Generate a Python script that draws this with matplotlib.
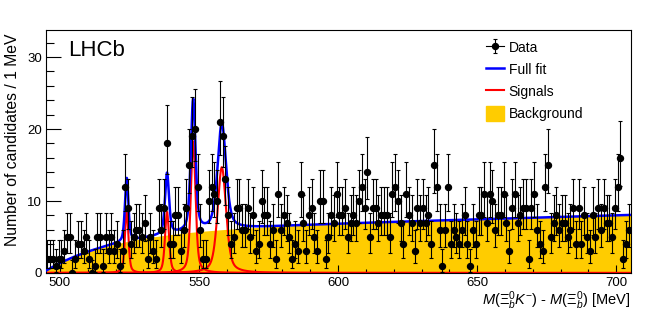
import math
import numpy as np
import matplotlib
matplotlib.use("Agg")
import matplotlib.pyplot as plt
from matplotlib.lines import Line2D
from matplotlib.patches import Patch

plt.rcParams["font.family"] = ["Liberation Sans", "DejaVu Sans"]
plt.rcParams["mathtext.fontset"] = "custom"
plt.rcParams["mathtext.rm"] = "Liberation Sans"
plt.rcParams["mathtext.it"] = "Liberation Sans:italic"

# --- data: counts per 1 MeV bin, 495-705 MeV ---
bin_lo = 495.0
bin_width = 1.0
counts = [
    2, 2, 2, 1, 2, 2, 3, 5, 5, 0, 2, 4, 4, 3, 5, 2, 0, 1, 5, 5,
    1, 5, 3, 5, 3, 4, 1, 3, 12, 9, 4, 5, 6, 6, 5, 7, 2, 5, 3, 2,
    9, 6, 9, 18, 4, 4, 8, 8, 3, 6, 9, 15, 19, 20, 12, 6, 2, 2, 10, 12,
    11, 10, 21, 19, 13, 8, 4, 5, 9, 9, 6, 6, 9, 5, 8, 3, 4, 10, 8, 8,
    4, 6, 2, 11, 6, 8, 7, 5, 2, 4, 3, 11, 7, 3, 8, 9, 5, 3, 10, 10,
    2, 5, 8, 7, 11, 8, 8, 9, 5, 7, 8, 7, 10, 12, 9, 14, 5, 9, 9, 7,
    8, 8, 8, 5, 11, 12, 10, 7, 4, 11, 8, 7, 3, 9, 7, 9, 7, 8, 4, 15,
    12, 6, 1, 6, 12, 4, 6, 5, 4, 6, 8, 4, 1, 6, 4, 8, 8, 11, 7, 11,
    10, 6, 8, 8, 11, 7, 3, 9, 11, 7, 8, 9, 9, 2, 9, 11, 6, 4, 3, 12,
    15, 5, 7, 8, 6, 7, 7, 5, 6, 9, 4, 9, 4, 8, 5, 3, 8, 5, 9, 6,
    9, 7, 7, 5, 9, 12, 16, 2, 4, 6,
]

# --- fit model ---
peak_mass = [524.0, 538.5, 547.9, 558.2]
peak_height = [8.8, 8.5, 18.3, 14.7]
peak_fwhm = [1.45, 1.7, 2.0, 3.6]
threshold = 493.7
bkg_amp, bkg_scale, bkg_slope = 5.74, 25.0, 0.011

x_lo, x_hi = 495.0, 705.3
y_hi = 33.75


def poisson_cdf(k, mu):
    if k < 0:
        return 0.0
    term = math.exp(-mu)
    s = term
    for j in range(1, k + 1):
        term *= mu / j
        s += term
    return s


def garwood(n, cl=0.6827):
    # 68% central Poisson interval, as ROOT draws it
    a = (1 - cl) / 2
    lo, hi = n, n + 10 * math.sqrt(n + 1) + 10
    for _ in range(60):
        mid = 0.5 * (lo + hi)
        if poisson_cdf(n, mid) > a:
            lo = mid
        else:
            hi = mid
    up = 0.5 * (lo + hi)
    if n == 0:
        return 0.0, up
    lo, hi = 0.0, n
    for _ in range(60):
        mid = 0.5 * (lo + hi)
        if 1 - poisson_cdf(n - 1, mid) < a:
            lo = mid
        else:
            hi = mid
    return 0.5 * (lo + hi), up


def bkg(m):
    d = np.clip(m - threshold, 0, None)
    return bkg_amp * (1 - np.exp(-d / bkg_scale)) + bkg_slope * d


def peak(m, m0, h, fwhm):
    g = fwhm / 2
    lor = 1 / (1 + ((m - m0) / g) ** 2)
    gau = np.exp(-4 * np.log(2) * ((m - m0) / fwhm) ** 2)
    return h * (0.5 * lor + 0.5 * gau)


counts = np.array(counts)
centers = bin_lo + bin_width * (np.arange(len(counts)) + 0.5)
ints = [garwood(int(n)) for n in counts]
err_lo = counts - np.array([i[0] for i in ints])
err_hi = np.array([i[1] for i in ints]) - counts

m = np.linspace(x_lo, x_hi, 3000)
b = bkg(m)
sigs = [peak(m, m0, h, w) for m0, h, w in zip(peak_mass, peak_height, peak_fwhm)]
total = b + np.sum(sigs, axis=0)

fig = plt.figure(figsize=(6.64, 3.11), dpi=100)
ax = fig.add_axes([0.0693, 0.1222, 0.8810, 0.7813])

yellow = "#ffcc00"
ax.fill_between(m, 0, b, color=yellow, lw=0, zorder=1)
for s in sigs:
    ax.plot(m, s, color="#ff0000", lw=1.5, zorder=2)
ax.plot(m, total, color="#0000ff", lw=1.8, zorder=3)
eb = ax.errorbar(centers, counts, yerr=[err_lo, err_hi], fmt="o", color="black",
                 ms=4.3, elinewidth=0.8, capsize=1.6, capthick=0.8, zorder=4)

ax.set_xlim(x_lo, x_hi)
ax.set_ylim(0, y_hi)
ax.set_xticks([500, 550, 600, 650, 700])
ax.set_xticks(np.arange(500, 706, 10), minor=True)
ax.set_yticks([0, 10, 20, 30])
ax.set_yticks(np.arange(0, 34, 2), minor=True)
ax.tick_params(axis="both", which="both", direction="in", labelsize=9.5, width=0.8)
ax.tick_params(axis="x", which="major", length=6, pad=3)
ax.tick_params(axis="x", which="minor", length=3)
ax.tick_params(axis="y", which="major", length=11, pad=3)
ax.tick_params(axis="y", which="minor", length=5.5)
for sp in ax.spines.values():
    sp.set_linewidth(0.8)

ax.set_xlabel(r"$M(\mathit{\Xi}_b^{\mathit{0}}K^{-})$ - $M(\mathit{\Xi}_b^{\mathit{0}})$ [MeV]",
              fontsize=10.5, ha="right", va="top")
ax.xaxis.set_label_coords(1.0, -0.066)
ax.set_ylabel("Number of candidates / 1 MeV", fontsize=11.3, ha="right", va="bottom")
ax.yaxis.set_label_coords(-0.045, 0.985)

ax.text(0.038, 0.895, "LHCb", transform=ax.transAxes, fontsize=16, ha="left", va="baseline")

handles = [(Line2D([], [], color="black", lw=0.8), eb),
           Line2D([], [], color="#0000ff", lw=1.8),
           Line2D([], [], color="#ff0000", lw=1.5),
           Patch(facecolor=yellow, edgecolor=yellow)]
labels = ["Data", "Full fit", "Signals", "Background"]
ax.legend(handles, labels, loc="upper left", bbox_to_anchor=(0.736, 1.0), frameon=False,
          fontsize=10, handlelength=1.3, handleheight=1.3, handletextpad=0.3, labelspacing=0.5,
          borderaxespad=0.3)

fig.savefig("out.png", dpi=100)
